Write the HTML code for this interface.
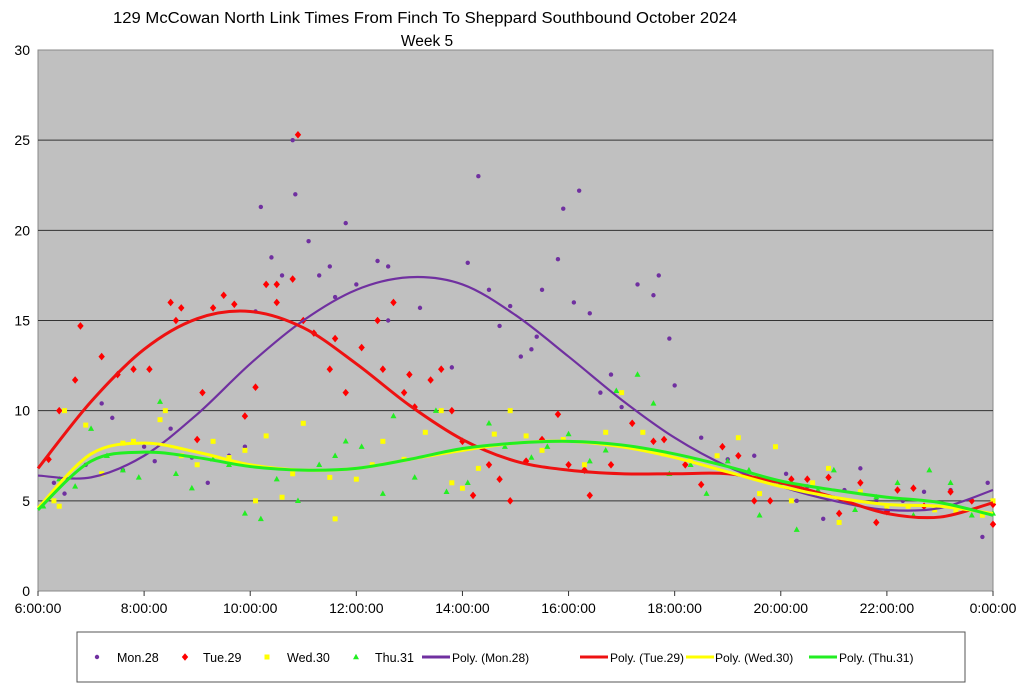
<!DOCTYPE html>
<html><head><meta charset="utf-8"><style>
body{margin:0;background:#fff;font-family:"Liberation Sans",sans-serif}
svg text{font-family:"Liberation Sans",sans-serif}
</style></head><body>
<svg id="chart" width="1024" height="690" viewBox="0 0 1024 690">
<rect x="0" y="0" width="1024" height="690" fill="#fff"/>
<text x="425" y="23" font-size="15.5" text-anchor="middle" textLength="624" lengthAdjust="spacingAndGlyphs">129 McCowan North Link Times From Finch To Sheppard Southbound October 2024</text>
<text x="427" y="46" font-size="15.5" text-anchor="middle">Week 5</text>
<rect x="38" y="50" width="955" height="541" fill="#c0c0c0" stroke="#888"/>
<g id="grid"></g><g id="axes"></g><g id="marks"></g><g id="trends"></g>
<rect x="77" y="632" width="888" height="50" fill="#fff" stroke="#555"/>
<g id="legend"></g>
</svg>
<script>
const yTicks=[0,5,10,15,20,25,30];
const xTickHours=[6,8,10,12,14,16,18,20,22,24];
const xTickLabels=["6:00:00","8:00:00","10:00:00","12:00:00","14:00:00","16:00:00","18:00:00","20:00:00","22:00:00","0:00:00"];
const seriesNames=["Mon.28","Tue.29","Wed.30","Thu.31"];
const monPoints=[[6.3,6],[6.5,5.4],[6.9,7],[7.2,10.4],[7.4,9.6],[7.6,6.7],[8,8],[8.2,7.2],[8.5,9],[8.9,7.4],[9.2,6],[9.6,7.5],[9.9,8],[10.1,15.5],[10.2,21.3],[10.4,18.5],[10.6,17.5],[10.8,25],[10.85,22],[11.1,19.4],[11.3,17.5],[11.5,18],[11.6,16.3],[11.8,20.4],[12,17],[12.4,18.3],[12.6,18],[12.6,15],[13.2,15.7],[13.8,12.4],[14.1,18.2],[14.3,23],[14.5,16.7],[14.7,14.7],[14.9,15.8],[15.1,13],[15.3,13.4],[15.4,14.1],[15.5,16.7],[15.8,18.4],[15.9,21.2],[16.1,16],[16.2,22.2],[16.4,15.4],[16.6,11],[16.8,12],[17,10.2],[17.3,17],[17.6,16.4],[17.7,17.5],[17.9,14],[18,11.4],[18.5,8.5],[19,7.3],[19.5,7.5],[20.1,6.5],[20.3,5],[20.5,5.8],[20.8,4],[21.2,5.6],[21.5,6.8],[21.8,5],[22.3,5],[22.7,5.5],[23.2,5.6],[23.8,3],[23.9,6]];
const tuePoints=[[6.2,7.3],[6.4,10],[6.7,11.7],[6.8,14.7],[7.2,13],[7.5,12],[7.8,12.3],[8.1,12.3],[8.5,16],[8.6,15],[8.7,15.7],[9,8.4],[9.1,11],[9.3,15.7],[9.5,16.4],[9.7,15.9],[9.9,9.7],[10.1,11.3],[10.3,17],[10.5,17],[10.5,16],[10.8,17.3],[10.9,25.3],[11,15],[11.2,14.3],[11.5,12.3],[11.6,14],[11.8,11],[12.1,13.5],[12.4,15],[12.5,12.3],[12.7,16],[12.9,11],[13,12],[13.1,10.2],[13.4,11.7],[13.6,12.3],[13.8,10],[14,8.3],[14.2,5.3],[14.5,7],[14.7,6.2],[14.9,5],[15.2,7.2],[15.5,8.4],[15.8,9.8],[16,7],[16.3,6.7],[16.4,5.3],[16.8,7],[17.2,9.3],[17.6,8.3],[17.8,8.4],[18.2,7],[18.5,5.9],[18.9,8],[19.2,7.5],[19.5,5],[19.8,5],[20.2,6.2],[20.5,6.2],[20.9,6.3],[21.1,4.3],[21.5,6],[21.8,3.8],[22,4.4],[22.2,5.6],[22.5,5.7],[22.7,4.7],[23.2,5.5],[23.6,5],[24,3.7],[24,4.8]];
const wedPoints=[[6.3,5],[6.4,4.7],[6.5,10],[6.9,9.2],[7.2,6.5],[7.6,8.2],[7.8,8.3],[8.3,9.5],[8.4,10],[8.7,7.5],[9,7],[9.3,8.3],[9.6,7.4],[9.9,7.8],[10.1,5],[10.3,8.6],[10.6,5.2],[10.8,6.5],[11,9.3],[11.5,6.3],[11.6,4],[12,6.2],[12.3,7],[12.5,8.3],[12.9,7.3],[13.3,8.8],[13.6,10],[13.8,6],[14,5.7],[14.3,6.8],[14.6,8.7],[14.9,10],[15.2,8.6],[15.5,7.8],[15.9,8.4],[16.3,7],[16.7,8.8],[17,11],[17.4,8.8],[17.8,7.6],[18.3,7.3],[18.8,7.5],[19.2,8.5],[19.6,5.4],[19.9,8],[20.2,5],[20.6,6],[20.9,6.8],[21.1,3.8],[21.5,5.5],[22,4.7],[22.4,4.7],[22.9,4.5],[23.3,4.4],[23.8,4.2],[24,5]];
const thuPoints=[[6.1,4.7],[6.4,6.2],[6.7,5.8],[7,9],[7.3,7.5],[7.6,6.7],[7.9,6.3],[8.3,10.5],[8.6,6.5],[8.9,5.7],[9.3,7.3],[9.6,7],[9.9,4.3],[10.2,4],[10.5,6.2],[10.9,5],[11.3,7],[11.6,7.5],[11.8,8.3],[12.1,8],[12.5,5.4],[12.7,9.7],[13.1,6.3],[13.5,10],[13.7,5.5],[14.1,6],[14.5,9.3],[14.8,8],[15.3,7.4],[15.6,8],[16,8.7],[16.4,7.2],[16.7,7.8],[16.9,11.1],[17.3,12],[17.6,10.4],[17.9,6.5],[18.3,7],[18.6,5.4],[19,7.2],[19.4,6.7],[19.6,4.2],[20,6],[20.3,3.4],[20.7,5.6],[21,6.7],[21.4,4.5],[21.8,5.2],[22.2,6],[22.5,4.2],[22.8,6.7],[23.2,6],[23.6,4.2],[24,4.3]];
const trendHours=[6,7,8,9,10,11,12,13,14,15,16,17,18,19,20,21,22,23,24];
const monTrend=[6.4,6.3,7.5,9.8,12.6,15.0,16.7,17.4,17.0,15.3,13.0,10.6,8.5,6.9,5.8,5.0,4.5,4.6,5.6];
const tueTrend=[6.8,10.5,13.4,15.1,15.5,14.6,12.6,10.3,8.4,7.2,6.7,6.5,6.5,6.5,6.0,5.2,4.3,4.1,4.9];
const wedTrend=[4.6,7.6,8.2,7.7,7.0,6.7,6.8,7.3,7.8,8.2,8.3,8.0,7.4,6.6,5.8,5.2,4.8,4.7,4.3];
const thuTrend=[4.5,7.2,7.7,7.4,6.9,6.7,6.8,7.3,7.9,8.2,8.3,8.1,7.6,6.9,6.1,5.6,5.2,4.9,4.2];

const NS="http://www.w3.org/2000/svg";
const X0=38,X1=993,Y0=591,Y1=50;
function xs(h){return X0+(h-6)/18*(X1-X0);}
function ys(v){return Y0-v/30*(Y0-Y1);}
function mk(tag,attrs,parent){const e=document.createElementNS(NS,tag);for(const k in attrs)e.setAttribute(k,attrs[k]);parent.appendChild(e);return e;}
const grid=document.getElementById('grid'),axes=document.getElementById('axes');
yTicks.forEach(v=>{
 if(v>0&&v<30){const l=mk('line',{x1:X0,x2:X1,y1:ys(v),y2:ys(v),stroke:'#333','stroke-width':1},grid);
 
 }
 const t=mk('text',{x:X0-8,y:ys(v)+5,'font-size':14,'text-anchor':'end'},axes);t.textContent=v;
 
 
});
xTickHours.forEach((h,i)=>{
 mk('line',{x1:xs(h),x2:xs(h),y1:Y0,y2:Y0+5,stroke:'#333'},axes);
 const t=mk('text',{x:xs(h),y:Y0+22,'font-size':14,'text-anchor':'middle'},axes);t.textContent=xTickLabels[i];
 
 
});
const colors=['#7030a0','#ff0000','#ffff00','#22ee22'];
const lineColors=['#7030a0','#ee1111','#ffff00','#22ee22'];
function marker(g,k,x,y){
 if(k===0)return mk('circle',{cx:x,cy:y,r:2.2,fill:colors[0]},g);
 if(k===1)return mk('path',{d:`M${x} ${y-3.8}L${x+3.2} ${y}L${x} ${y+3.8}L${x-3.2} ${y}Z`,fill:colors[1]},g);
 if(k===2)return mk('rect',{x:x-2.5,y:y-2.5,width:5,height:5,fill:colors[2]},g);
 return mk('path',{d:`M${x} ${y-3.3}L${x+3} ${y+2.2}L${x-3} ${y+2.2}Z`,fill:colors[3]},g);
}
const marks=document.getElementById('marks');
[monPoints,tuePoints,wedPoints,thuPoints].forEach((pts,k)=>{
 const g=mk('g',{},marks);
 
 
 pts.forEach(p=>{const m=marker(g,k,xs(p[0]),ys(p[1]));
 
 });
});
function smooth(pts){let d=`M${pts[0][0]} ${pts[0][1]}`;
 for(let i=0;i<pts.length-1;i++){const p0=pts[Math.max(0,i-1)],p1=pts[i],p2=pts[i+1],p3=pts[Math.min(pts.length-1,i+2)];
 d+=`C${p1[0]+(p2[0]-p0[0])/6} ${p1[1]+(p2[1]-p0[1])/6} ${p2[0]-(p3[0]-p1[0])/6} ${p2[1]-(p3[1]-p1[1])/6} ${p2[0]} ${p2[1]}`;}
 return d;}
const trends=document.getElementById('trends');
[monTrend,tueTrend,wedTrend,thuTrend].forEach((vals,k)=>{
 const pts=trendHours.map((h,i)=>[xs(h),ys(vals[i])]);
 const p=mk('path',{d:smooth(pts),fill:'none',stroke:lineColors[k],'stroke-width':k===0?2.2:3},trends);
 
 
});
const legend=document.getElementById('legend');const LY=657;
const mPos=[[97,117],[185,203],[267,287],[356,375]];
mPos.forEach((p,k)=>{const m=marker(legend,k,p[0],LY);
 
 
 const t=mk('text',{x:p[1],y:LY+5,'font-size':12.5},legend);t.textContent=seriesNames[k];
 
 });
const lPos=[[422,452],[580,610],[686,715],[809,839]];
lPos.forEach((p,k)=>{mk('line',{x1:p[0],x2:p[0]+28,y1:LY,y2:LY,stroke:lineColors[k],'stroke-width':3},legend);
 const t=mk('text',{x:p[1],y:LY+5,'font-size':12},legend);t.textContent='Poly. ('+seriesNames[k]+')';
 
 });
</script>
</body></html>
